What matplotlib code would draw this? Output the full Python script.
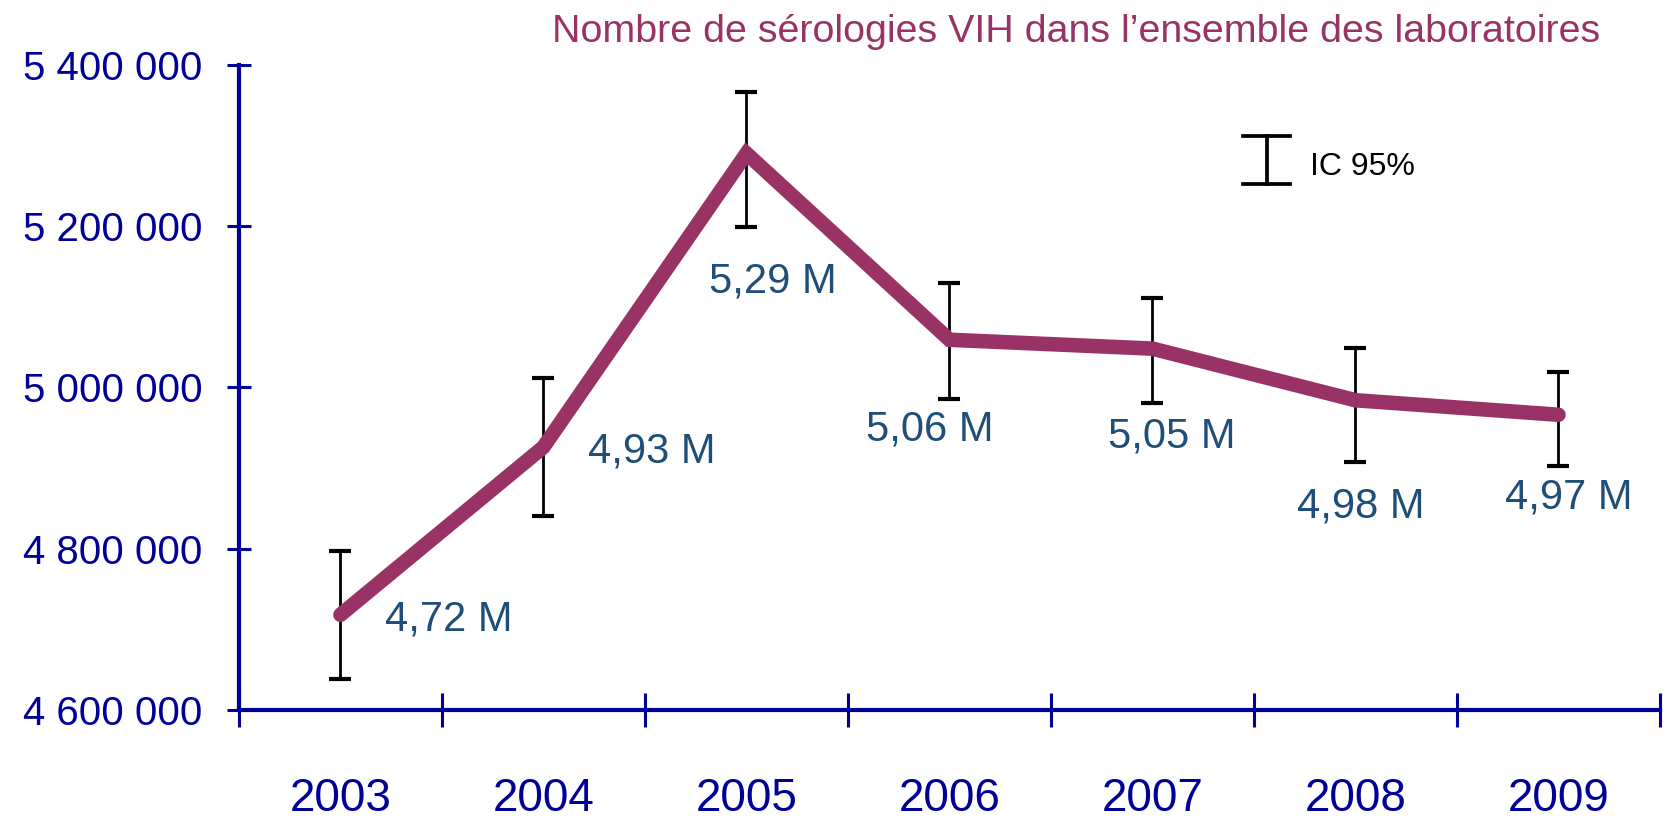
import matplotlib
matplotlib.use("Agg")
import matplotlib.pyplot as plt
from matplotlib.ticker import FixedLocator, FuncFormatter, NullFormatter

plt.rcParams['font.family'] = ['Liberation Sans Narrow', 'Liberation Sans', 'DejaVu Sans']

years = ['2003', '2004', '2005', '2006', '2007', '2008', '2009']
tests = [4718000, 4926000, 5290000, 5059000, 5048000, 4984000, 4966000]
ci_low = [4638000, 4840000, 5199000, 4985000, 4980000, 4907000, 4903000]
ci_high = [4797000, 5011000, 5366000, 5129000, 5111000, 5049000, 5019000]
# label offsets (pixels) relative to each point
lab_dx = [108, 108, 26, -20, 19, 5, 10]
lab_dy = [-5, -4, -128, -90, -88, -106, -83]

navy = '#000099'
plum = '#993366'
lab_col = '#1F4E79'

fig = plt.figure(figsize=(16.71, 8.25), dpi=100)
ax = fig.add_axes([0.143, 0.1394, 0.8504, 0.7822])

x = [i + 0.5 for i in range(len(years))]
yerr = [[t - lo for t, lo in zip(tests, ci_low)], [hi - t for t, hi in zip(tests, ci_high)]]

ax.errorbar(x, tests, yerr=yerr, fmt='none', ecolor='black', elinewidth=2,
            capsize=8, capthick=3, zorder=2)
ax.plot(x, tests, color=plum, lw=10.5, solid_capstyle='round',
        solid_joinstyle='miter', zorder=3)

for xi, t, dx, dy in zip(x, tests, lab_dx, lab_dy):
    s = f"{t / 1e6:.2f}".replace('.', ',') + " M"
    ax.annotate(s, (xi, t), xytext=(dx, dy), textcoords='offset pixels',
                ha='center', va='center', fontsize=30, color=lab_col)

ax.set_xlim(0, len(years))
ax.set_ylim(4600000, 5400000)

ax.xaxis.set_major_locator(FixedLocator(range(len(years) + 1)))
ax.xaxis.set_major_formatter(NullFormatter())
ax.xaxis.set_minor_locator(FixedLocator(x))
ax.set_xticklabels(years, minor=True)
ax.tick_params(axis='x', which='major', direction='inout', length=24, width=2.2, color=navy)
ax.tick_params(axis='x', which='minor', length=0, pad=48, labelsize=33, labelcolor=navy)

ax.set_yticks([4600000, 4800000, 5000000, 5200000, 5400000])
ax.yaxis.set_major_formatter(FuncFormatter(lambda v, p: f"{int(v):,}".replace(',', ' ')))
ax.tick_params(axis='y', direction='inout', length=17, width=2.2, color=navy,
               pad=18, labelsize=29, labelcolor=navy)

for side in ['top', 'right']:
    ax.spines[side].set_visible(False)
for side in ['left', 'bottom']:
    ax.spines[side].set_color(navy)
    ax.spines[side].set_linewidth(3)

# legend key for the confidence interval (axes fraction)
kx, ky0, ky1, kw = 0.7234, 0.815, 0.889, 0.0165
ax.plot([kx, kx], [ky0, ky1], color='black', lw=2.7, transform=ax.transAxes, clip_on=False)
ax.plot([kx - kw, kx + kw], [ky0, ky0], color='black', lw=2.7, transform=ax.transAxes, clip_on=False)
ax.plot([kx - kw, kx + kw], [ky1, ky1], color='black', lw=2.7, transform=ax.transAxes, clip_on=False)
ax.text(0.754, 0.841, 'IC 95%', transform=ax.transAxes, ha='left', va='center',
        fontsize=23, color='black')

fig.text(0.644, 0.961, "Nombre de sérologies VIH dans l\u2019ensemble des laboratoires",
         ha='center', va='center', fontsize=28.4, color=plum)

fig.savefig('out.png', dpi=100)
